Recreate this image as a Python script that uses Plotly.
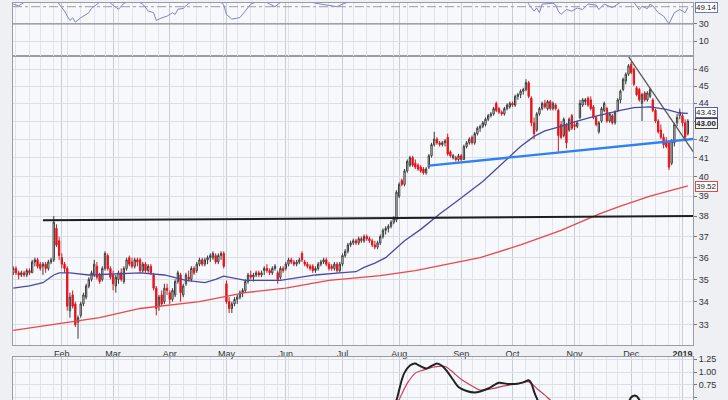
import math
import pandas as pd
import plotly.graph_objects as go

# ---------------- data ----------------
holidays = ["2018-01-15", "2018-02-19", "2018-03-30", "2018-05-28", "2018-07-04",
            "2018-09-03", "2018-11-22", "2018-12-05", "2018-12-25", "2019-01-01"]
trading_days = [d for d in pd.bdate_range("2018-01-05", "2019-01-04")
                if d.strftime("%Y-%m-%d") not in holidays]
day = list(range(len(trading_days)))

opens = [
    35.3, 35.5, 35.3, 35.2, 35.3, 35.2, 35.4, 35.3, 35.8, 35.9, 35.7, 35.6, 35.7, 35.5, 35.8, 35.9, 37.4, 36.8,
    36.0, 35.7, 35.5, 33.6, 34.3, 33.9, 33.1, 33.4, 33.9, 34.2, 34.7, 35.0, 35.2, 35.6, 35.2, 35.0, 35.5, 36.1, 35.5,
    35.2, 34.7, 35.0, 35.3, 34.9, 35.5, 36.0, 35.8, 35.6, 35.9, 35.9, 35.4, 35.7, 35.4, 35.6, 35.2, 34.6, 33.8, 34.3, 34.0, 34.6,
    34.4, 34.1, 34.3, 34.9, 35.2, 34.3, 34.8, 35.1, 35.0, 35.5, 35.4, 35.7, 35.9, 35.7, 35.9, 36.0, 36.0, 36.1, 35.8, 36.1, 36.2,
    34.8, 34.0, 33.7, 33.9, 34.1, 34.2, 34.4, 34.5, 34.9, 35.2, 35.1, 35.2, 35.3, 35.2, 35.4, 35.5, 35.4, 35.3, 35.5, 35.3, 35.1, 35.5,
    35.5, 35.7, 35.9, 35.8, 35.7, 35.8, 36.2, 35.8, 35.7, 35.6, 35.6, 35.4, 35.5, 35.7, 35.8, 35.9, 35.7, 35.6, 35.5, 35.7, 35.4,
    35.7, 36.1, 36.3, 36.6, 36.7, 36.8, 36.7, 36.9, 36.8, 37.0, 36.9, 36.8, 36.6, 36.5, 36.7, 37.0, 37.3, 37.4, 37.5, 37.7, 37.8,
    39.0, 39.8, 39.6, 40.3, 40.6, 41.0, 40.7, 40.6, 40.5, 40.4, 40.2, 40.5, 41.1, 41.7, 42.0, 41.8, 41.7, 41.8, 42.1, 41.3, 41.0, 41.0, 40.9,
    41.1, 40.9, 41.6, 41.8, 42.1, 41.8, 42.3, 42.6, 42.7, 42.8, 43.1, 43.3, 43.4, 44.0, 43.7, 43.5, 43.4, 43.7, 43.8,
    44.0, 43.9, 44.4, 44.5, 44.7, 44.8, 45.2, 44.3, 42.9, 42.5, 43.4, 43.7, 44.0, 43.7, 44.1, 43.7, 43.9, 43.6, 42.8, 42.2, 42.8, 42.5, 43.3,
    42.8, 42.7, 43.2, 43.9, 44.1, 44.3, 44.2, 43.8, 43.2, 42.4, 43.0, 43.6, 43.7, 43.0, 43.3, 42.9, 43.6, 44.2, 44.8, 45.3, 45.7,
    46.3, 46.0, 44.9, 44.8, 44.0, 44.6, 44.2, 44.4, 44.2, 43.6, 43.0, 42.5, 42.1, 41.9, 41.8, 40.7, 41.8, 42.9, 43.3,
    43.3, 42.9, 42.3,
]
highs = [
    35.6, 35.6, 35.4, 35.4, 35.4, 35.5, 35.5, 35.9, 36.0, 36.0, 35.8, 35.8, 35.8, 35.9, 36.0, 38.0, 37.6, 37.0,
    36.2, 35.8, 35.6, 34.4, 34.5, 34.0, 33.4, 34.0, 34.4, 34.8, 35.1, 35.4, 35.9, 35.8, 35.3, 35.6, 36.3, 36.2, 35.6,
    35.4, 35.2, 35.4, 35.5, 35.6, 36.0, 36.1, 36.0, 36.0, 36.0, 36.0, 35.8, 35.8, 35.7, 35.7, 35.3, 34.7, 34.3, 34.5, 34.8, 34.8,
    34.5, 34.6, 35.0, 35.4, 35.3, 34.8, 35.3, 35.4, 35.6, 35.6, 35.8, 36.0, 36.0, 36.0, 36.1, 36.2, 36.3, 36.2, 36.2, 36.3, 36.3,
    34.95, 34.2, 34.0, 34.2, 34.3, 34.5, 34.6, 35.0, 35.3, 35.4, 35.3, 35.4, 35.4, 35.4, 35.6, 35.7, 35.5, 35.6, 35.7, 35.4, 35.6, 35.6,
    35.8, 36.0, 36.0, 35.9, 35.9, 36.0, 36.3, 35.9, 35.8, 35.7, 35.7, 35.6, 35.8, 35.9, 36.0, 36.0, 35.8, 35.7, 35.8, 35.8, 35.8,
    36.2, 36.4, 36.7, 36.8, 36.9, 36.9, 37.0, 37.0, 37.1, 37.1, 37.0, 36.9, 36.8, 36.8, 37.1, 37.4, 37.5, 37.6, 37.8, 38.0, 39.3,
    39.7, 39.9, 40.4, 40.9, 41.1, 41.1, 40.9, 40.7, 40.6, 40.5, 40.5, 41.2, 41.8, 42.4, 42.1, 41.9, 41.9, 42.0, 42.3, 41.4, 41.2, 41.1, 41.2,
    41.2, 41.7, 41.9, 42.1, 42.2, 42.4, 42.7, 42.8, 43.0, 43.2, 43.4, 43.5, 43.8, 44.1, 43.8, 43.6, 43.8, 44.0, 44.1,
    44.1, 44.5, 44.6, 44.8, 44.9, 45.4, 45.3, 44.4, 43.2, 43.5, 43.8, 44.1, 44.2, 44.2, 44.2, 44.1, 44.0, 43.7, 43.0, 43.2, 42.9, 43.2, 43.4,
    43.0, 43.0, 44.2, 44.3, 44.3, 44.4, 44.4, 43.9, 43.3, 43.0, 43.8, 44.1, 43.8, 43.5, 43.4, 43.6, 44.3, 44.8, 45.5, 45.8, 46.3,
    46.45, 46.1, 45.0, 44.9, 44.6, 44.7, 44.7, 44.9, 44.3, 43.7, 43.1, 42.8, 42.3, 42.1, 41.9, 42.0, 42.9, 43.4, 43.7,
    43.4, 43.1, 43.1,
]
lows = [
    35.2, 35.2, 35.0, 35.1, 35.1, 35.1, 35.2, 35.3, 35.6, 35.5, 35.4, 35.2, 35.3, 35.4, 35.7, 35.8, 36.5, 35.9,
    35.5, 35.3, 33.6, 33.3, 33.7, 32.9, 32.4, 33.3, 33.8, 34.1, 34.6, 34.9, 35.1, 35.0, 34.8, 34.9, 35.4, 35.4, 35.0,
    34.5, 34.4, 34.8, 34.9, 34.8, 35.4, 35.6, 35.5, 35.5, 35.6, 35.3, 35.3, 35.3, 35.3, 35.2, 34.5, 33.4, 33.6, 33.8, 33.9, 34.3,
    33.9, 34.0, 34.2, 34.8, 34.0, 34.2, 34.7, 34.9, 34.9, 35.2, 35.3, 35.6, 35.6, 35.6, 35.7, 35.8, 35.9, 35.7, 35.7, 35.9, 35.5,
    33.9, 33.5, 33.5, 33.8, 33.9, 34.1, 34.2, 34.4, 34.8, 35.0, 34.9, 35.1, 35.1, 35.1, 35.2, 35.3, 35.2, 35.2, 35.4, 34.8, 35.0, 35.3,
    35.4, 35.6, 35.7, 35.6, 35.6, 35.7, 35.8, 35.6, 35.5, 35.4, 35.3, 35.3, 35.4, 35.6, 35.7, 35.6, 35.4, 35.4, 35.4, 35.3, 35.3,
    35.6, 36.0, 36.2, 36.5, 36.6, 36.6, 36.6, 36.7, 36.7, 36.8, 36.7, 36.5, 36.4, 36.4, 36.6, 36.9, 37.1, 37.2, 37.4, 37.6, 37.7,
    38.9, 39.5, 39.5, 40.2, 40.5, 40.5, 40.4, 40.3, 40.2, 40.1, 40.1, 40.4, 41.0, 41.6, 41.7, 41.6, 41.6, 41.6, 41.1, 41.0, 40.9, 40.8, 40.8,
    40.8, 40.9, 41.5, 41.7, 41.7, 41.7, 42.2, 42.4, 42.6, 42.7, 43.0, 43.2, 43.3, 43.5, 43.4, 43.3, 43.3, 43.6, 43.7,
    43.8, 43.8, 44.2, 44.3, 44.5, 44.7, 44.3, 42.7, 42.0, 42.4, 43.3, 43.6, 43.7, 43.6, 43.6, 43.6, 43.6, 41.3, 42.0, 42.1, 41.5, 42.4, 42.5,
    42.5, 42.6, 43.1, 43.8, 43.9, 43.8, 43.6, 43.1, 42.7, 42.3, 42.9, 43.5, 42.9, 42.9, 42.8, 42.8, 43.5, 44.0, 44.7, 45.1, 45.6,
    45.7, 45.0, 44.4, 44.1, 43.0, 44.1, 44.1, 44.3, 43.5, 42.9, 42.3, 42.0, 41.5, 41.5, 40.35, 40.6, 41.6, 42.7, 43.1,
    42.7, 41.9, 42.2,
]
closes = [
    35.5, 35.3, 35.2, 35.3, 35.2, 35.4, 35.3, 35.8, 35.9, 35.6, 35.5, 35.7, 35.5, 35.8, 35.9, 37.7, 36.6, 36.1,
    35.7, 35.5, 33.8, 34.2, 33.8, 33.0, 33.3, 33.9, 34.3, 34.7, 35.0, 35.3, 35.7, 35.1, 34.9, 35.5, 36.2, 35.5, 35.1,
    34.8, 35.1, 35.3, 35.0, 35.5, 35.9, 35.7, 35.6, 35.9, 35.8, 35.4, 35.7, 35.4, 35.6, 35.3, 34.6, 33.7, 34.2, 33.9, 34.6, 34.5,
    34.1, 34.5, 34.9, 35.3, 34.4, 34.7, 35.2, 35.0, 35.5, 35.3, 35.7, 35.9, 35.7, 35.9, 36.0, 36.1, 36.2, 35.8, 36.1, 36.2, 35.6,
    34.0, 33.7, 33.9, 34.1, 34.2, 34.4, 34.5, 34.9, 35.2, 35.1, 35.2, 35.3, 35.2, 35.3, 35.5, 35.4, 35.3, 35.5, 35.6, 35.0, 35.5, 35.4,
    35.7, 35.9, 35.8, 35.7, 35.8, 35.9, 35.9, 35.7, 35.6, 35.5, 35.4, 35.5, 35.7, 35.8, 35.9, 35.7, 35.5, 35.5, 35.7, 35.4, 35.7,
    36.1, 36.3, 36.6, 36.7, 36.8, 36.7, 36.9, 36.8, 37.0, 36.9, 36.8, 36.6, 36.5, 36.7, 37.0, 37.3, 37.4, 37.5, 37.7, 37.9, 39.2,
    39.6, 39.6, 40.3, 40.8, 41.0, 40.6, 40.5, 40.4, 40.3, 40.2, 40.4, 41.1, 41.7, 42.0, 41.8, 41.7, 41.8, 41.9, 41.2, 41.1, 41.1, 40.9, 41.1,
    40.9, 41.6, 41.8, 42.0, 41.8, 42.3, 42.6, 42.7, 42.9, 43.1, 43.3, 43.4, 43.7, 43.6, 43.5, 43.4, 43.7, 43.9, 44.0,
    43.9, 44.4, 44.5, 44.7, 44.8, 45.2, 44.4, 42.9, 42.3, 43.4, 43.7, 44.0, 43.8, 44.1, 43.7, 44.0, 43.7, 42.2, 42.1, 43.1, 41.8, 43.1, 42.6,
    42.7, 42.9, 44.0, 44.2, 44.2, 43.9, 43.7, 43.2, 42.8, 42.9, 43.7, 44.0, 43.0, 43.4, 42.9, 43.5, 44.2, 44.7, 45.4, 45.7, 46.2,
    45.8, 45.1, 44.5, 44.2, 44.5, 44.2, 44.6, 44.8, 43.6, 43.0, 42.4, 42.1, 41.7, 41.6, 40.5, 41.9, 42.8, 43.2, 43.5,
    42.9, 42.1, 43.0,
]

# moving averages (trading-day index, value)
ma50_day = [0, 6, 11, 15, 17, 21, 28, 36, 47, 56, 64, 71, 75, 78, 82, 86, 99, 106, 112, 121, 127, 130,
            134, 138, 142, 145, 151, 158, 164, 170, 174, 179, 183, 188, 193, 197, 203, 208, 214, 219,
            225, 230, 236, 242, 247, 250]
ma50 = [34.6, 34.7, 34.85, 35.2, 35.3, 35.3, 35.2, 35.25, 35.3, 35.2, 34.95, 34.85, 35.0, 35.15, 35.05,
        34.95, 34.95, 35.1, 35.2, 35.3, 35.35, 35.55, 35.75, 36.0, 36.45, 36.8, 37.35, 38.1, 38.7, 39.3,
        39.75, 40.4, 40.95, 41.6, 42.15, 42.45, 42.7, 42.95, 43.2, 43.4, 43.6, 43.75, 43.8, 43.65, 43.45, 43.43]
ma200_day = [0, 17, 32, 47, 69, 86, 101, 117, 136, 149, 155, 173, 188, 203, 217, 225, 236, 242, 250]
ma200 = [32.75, 33.05, 33.3, 33.7, 34.0, 34.4, 34.6, 34.95, 35.17, 35.4, 35.55, 36.0, 36.6, 37.3,
         38.1, 38.5, 39.0, 39.22, 39.52]

# trend lines (trading-day index, price)
resist_day = [11, 253]
resist_price = [37.79, 38.0]
support_day = [154, 253]
support_price = [40.58, 42.02]
down_day = [227, 253]
down_price = [47.0, 41.1]

# top indicator (RSI-type)
rsi_day = [0, 2, 4, 8, 12, 15, 17, 19, 20, 21, 22, 23, 25, 28, 29, 31, 34, 36, 39, 41, 45, 48, 50, 52, 53,
           55, 57, 59, 60, 61, 63, 65, 70, 76, 78, 79, 81, 83, 84, 86, 88, 92, 97, 99, 105, 112, 120, 122,
           130, 140, 150, 160, 170, 180, 188, 191, 193, 194, 195, 196, 200, 201, 202, 203, 205, 207, 209,
           211, 213, 216, 217, 219, 222, 225, 228, 230, 232, 233, 235, 236, 237, 239, 241, 243, 244, 245,
           247, 249, 250]
rsi = [53, 51, 55, 62, 60, 70, 53, 45, 39, 34, 37, 32, 37, 43, 48, 53, 60, 54, 47, 54, 58, 53, 45, 43, 34,
       37, 39, 43, 41, 47, 48, 54, 60, 58, 52, 41, 35.5, 36.7, 37.4, 45, 53, 58, 50, 55, 60, 54, 50, 53,
       62, 68, 60, 63, 66, 70, 70, 53, 44.8, 48.5, 43, 53, 54, 52, 44.8, 41, 46.7, 44.8, 48.5,
       46.7, 53, 52, 46.7, 53, 48.9, 55, 68, 55, 46.7, 50.5, 47.8, 53, 51, 43, 39, 30, 37.4, 43,
       46.7, 43, 49.14]

# lower indicator
low_black_day = [120, 130, 138, 141, 142, 143, 144, 145, 147, 149, 150, 153, 155, 157, 159, 161, 163, 165,
                 168, 171, 173, 176, 180, 183, 186, 189, 191, 192, 193, 194, 195, 198, 210, 222, 228, 229,
                 230, 231, 232, 233, 238, 245, 250]
low_black = [0.05, 0.0, 0.15, 0.36, 0.45, 0.65, 0.85, 0.99, 1.13, 1.17, 1.14, 1.07, 1.12, 1.17, 1.12, 1.00,
             0.85, 0.71, 0.63, 0.60, 0.62, 0.68, 0.79, 0.77, 0.77, 0.80, 0.84, 0.78, 0.62, 0.49, 0.38, 0.2,
             0.1, 0.2, 0.42, 0.51, 0.54, 0.53, 0.46, 0.38, 0.2, 0.05, 0.15]
low_red_day = [120, 130, 138, 142, 143, 146, 149, 152, 156, 160, 162, 166, 170, 173, 177, 182, 187, 191,
               194, 197, 199, 202, 215, 230, 240, 250]
low_red = [0.05, 0.05, 0.15, 0.35, 0.46, 0.78, 0.98, 1.04, 1.10, 1.11, 1.04, 0.86, 0.73, 0.65, 0.67, 0.73,
           0.77, 0.81, 0.68, 0.55, 0.455, 0.35, 0.2, 0.3, 0.25, 0.15]

month_labels = ["Feb", "Mar", "Apr", "May", "Jun", "Jul", "Aug", "Sep", "Oct", "Nov", "Dec", "<b>2019</b>"]
price_ticks = list(range(33, 47))
# the "43" tick label sits under the price tags in the reference
price_tick_text = ["" if v == 43 else str(v) for v in price_ticks]

# ---------------- figure ----------------
month_pos = [i for i in day[1:] if trading_days[i].month != trading_days[i - 1].month]
week_pos = [i for i in day[1:]
            if trading_days[i].isocalendar()[1] != trading_days[i - 1].isocalendar()[1]]

FONT = "Liberation Sans, Arial, sans-serif"
fig = go.Figure()

fig.add_trace(go.Scatter(x=ma200_day, y=ma200, mode="lines", line=dict(color="#e9484b", width=1.3),
                         xaxis="x", yaxis="y", hoverinfo="skip"))
fig.add_trace(go.Scatter(x=ma50_day, y=ma50, mode="lines", line=dict(color="#4a4aa6", width=1.3),
                         xaxis="x", yaxis="y", hoverinfo="skip"))
fig.add_trace(go.Candlestick(
    x=day, open=opens, high=highs, low=lows, close=closes,
    increasing=dict(line=dict(color="#3a3a3a", width=1), fillcolor="#ffffff"),
    decreasing=dict(line=dict(color="#e3141b", width=1), fillcolor="#e3141b"),
    whiskerwidth=0, xaxis="x", yaxis="y"))
fig.add_trace(go.Scatter(x=resist_day, y=resist_price, mode="lines", line=dict(color="#1e1e1e", width=2),
                         xaxis="x", yaxis="y", hoverinfo="skip"))
fig.add_trace(go.Scatter(x=support_day, y=support_price, mode="lines", line=dict(color="#2f80f0", width=2.4),
                         xaxis="x", yaxis="y", hoverinfo="skip"))
fig.add_trace(go.Scatter(x=down_day, y=down_price, mode="lines", line=dict(color="#555555", width=1.3),
                         xaxis="x", yaxis="y", hoverinfo="skip"))

fig.add_trace(go.Scatter(x=rsi_day, y=rsi, mode="lines", line=dict(color="#7b84c4", width=1),
                         xaxis="x3", yaxis="y3", hoverinfo="skip"))

fig.add_trace(go.Scatter(x=low_red_day, y=low_red, mode="lines", line=dict(color="#cc3b5a", width=1.2,
                         shape="spline"), xaxis="x2", yaxis="y2", hoverinfo="skip"))
fig.add_trace(go.Scatter(x=low_black_day, y=low_black, mode="lines", line=dict(color="#222222", width=2,
                         shape="spline", smoothing=0.8), xaxis="x2", yaxis="y2", hoverinfo="skip"))

common_x = dict(range=[-0.1, 251.9], tickmode="array", tickvals=month_pos, showgrid=True,
                gridcolor="#c9ccd4", gridwidth=1, zeroline=False, showline=True, mirror=True,
                linecolor="#9a9ca4", linewidth=1, ticks="",
                minor=dict(tickmode="array", tickvals=week_pos, showgrid=True, gridcolor="#e2e4ea",
                           gridwidth=1, ticks=""))
common_y = dict(side="right", showgrid=True, gridcolor="#dcdee5", zeroline=False, showline=True,
                mirror=True, linecolor="#9a9ca4", linewidth=1, ticks="outside", ticklen=3,
                tickcolor="#777777", tickfont=dict(size=9, color="#333333", family=FONT))

fig.update_layout(
    width=728, height=400, margin=dict(l=13, r=35, t=0, b=0),
    paper_bgcolor="#eef0f4", plot_bgcolor="#f7f8fb", showlegend=False,
    font=dict(family=FONT, size=9, color="#333333"),
    xaxis=dict(common_x, anchor="y", ticktext=month_labels, showticklabels=True,
               tickfont=dict(size=9, color="#333333", family=FONT), rangeslider=dict(visible=False)),
    xaxis2=dict(common_x, anchor="y2", matches="x", showticklabels=False),
    xaxis3=dict(common_x, anchor="y3", matches="x", showticklabels=False),
    yaxis=dict(common_y, domain=[0.1375, 0.8668], type="log",
               range=[math.log10(32.12), math.log10(46.8)], tickmode="array",
               tickvals=price_ticks, ticktext=price_tick_text),
    yaxis2=dict(common_y, domain=[0.0, 0.1075], range=[0.455, 1.289], tickmode="array",
                tickvals=[0.5, 0.75, 1.0, 1.25], ticktext=["0.50", "0.75", "1.00", "1.25"]),
    yaxis3=dict(common_y, domain=[0.8668, 1.0], range=[-7.3, 54.3], tickmode="array",
                tickvals=[10, 30], ticktext=["10", "30"]),
)

fig.add_shape(type="line", xref="x3 domain", x0=0, x1=1, yref="y3", y0=30, y1=30,
              line=dict(color="#8a8c92", width=1.2))
fig.add_shape(type="line", xref="x3 domain", x0=0, x1=1, yref="y3", y0=50, y1=50,
              line=dict(color="#9a9ca4", width=1, dash="dashdot"))


def price_tag(text, yval, yref, border, bold=False, bg="#ffffff", shift=0):
    fig.add_annotation(xref="paper", x=1, xanchor="left", xshift=2, yref=yref, y=yval, yshift=shift,
                       text=("<b>%s</b>" % text) if bold else text, showarrow=False,
                       font=dict(size=8, color="#222222", family=FONT),
                       bordercolor=border, borderwidth=1, borderpad=0, bgcolor=bg)


price_tag("43.43", math.log10(43.43), "y", "#5a5ab6", shift=1)
price_tag("43.00", math.log10(closes[-1]), "y", "#444444", bold=True, bg="#f2f2f2", shift=-2)
price_tag("39.52", math.log10(ma200[-1]), "y", "#e04848", shift=-1)
price_tag("49.14", rsi[-1], "y3", "#6f78c0")

fig.write_html("out.html")
